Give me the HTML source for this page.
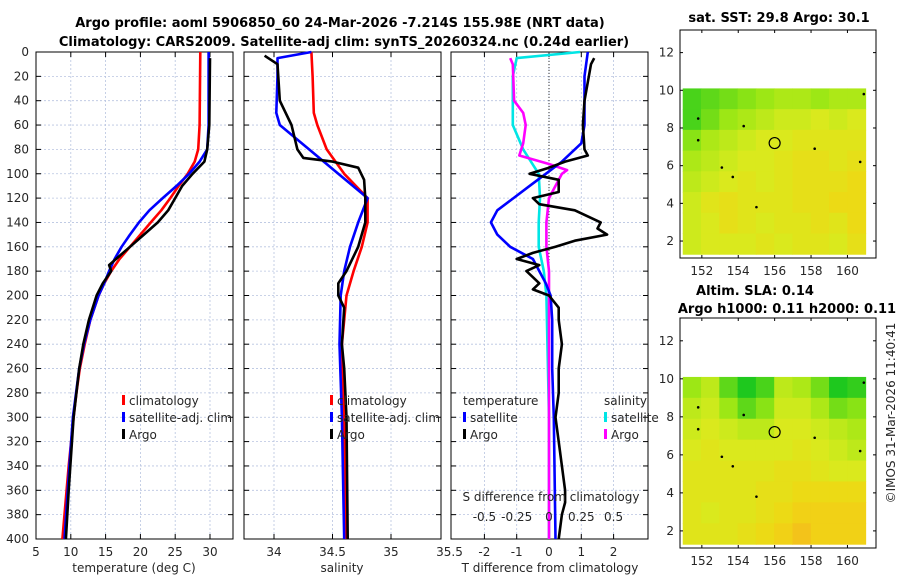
<!DOCTYPE html>
<html><head><meta charset="utf-8">
<style>
body{margin:0;background:#fff;}
svg{display:block;font-family:"DejaVu Sans","Liberation Sans",sans-serif;}
.t{font-size:12px;fill:#262626;}
.b{font-size:13px;font-weight:bold;fill:#000;}
</style></head>
<body>
<svg id="c" width="900" height="580" viewBox="0 0 900 580" xmlns="http://www.w3.org/2000/svg">
<text class="b" x="340" y="27" text-anchor="middle">Argo profile: aoml 5906850_60 24-Mar-2026 -7.214S 155.98E (NRT data)</text>
<text class="b" x="344" y="46" text-anchor="middle">Climatology: CARS2009. Satellite-adj clim: synTS_20260324.nc (0.24d earlier)</text>
<g id="g"></g>
</svg>
<script>
// ---- data ----
const tClimD=[0,60,80,90,100,110,120,130,140,150,160,170,180,190,200,220,240,260,280,300,340,380,400];
const tClimV=[28.6,28.5,28.3,27.8,26.8,25.5,24.3,23,21.5,20,18.5,17,15.8,14.8,14,12.8,12,11.3,10.8,10.4,9.7,9.1,8.8];
const tSatD=[0,60,80,90,100,110,120,130,140,150,160,170,180,190,200,220,240,260,300,340,400];
const tSatV=[29.8,29.8,29.6,28.5,27,25.2,23.2,21.3,19.8,18.5,17.3,16.3,15.5,14.8,14,12.8,11.9,11.2,10.3,9.8,9.1];
const tArgoD=[5,60,80,90,100,110,120,130,140,150,160,170,175,180,190,200,220,240,260,300,360,400];
const tArgoV=[30,29.9,29.6,29.2,27.5,26,25,24,22.5,20.5,18.5,16.5,15.5,15.8,14.6,13.7,12.6,11.8,11.2,10.4,9.7,9.3];
const sClimD=[0,20,50,60,80,100,120,140,160,180,200,240,300,400];
const sClimV=[34.32,34.33,34.34,34.37,34.45,34.6,34.8,34.8,34.75,34.68,34.62,34.58,34.6,34.61];
const sSatD=[0,5,20,50,60,80,100,120,140,160,180,200,240,300,400];
const sSatV=[34.32,34.03,34.03,34.02,34.05,34.3,34.55,34.8,34.72,34.65,34.6,34.57,34.56,34.58,34.6];
const sArgoD=[3,10,40,60,80,87,90,95,105,120,140,160,180,190,200,210,240,260,300,400];
const sArgoV=[33.92,34.03,34.05,34.15,34.2,34.25,34.5,34.72,34.77,34.78,34.78,34.72,34.62,34.55,34.55,34.6,34.58,34.6,34.62,34.63];
const dtSatD=[0,20,60,75,90,100,110,120,130,140,150,160,170,180,190,200,220,260,300,400];
const dtSatV=[1.2,1.1,1.1,1.0,0.4,-0.1,-0.6,-1.1,-1.6,-1.8,-1.6,-1.2,-0.5,-0.3,-0.1,0.05,0.1,0.1,0.15,0.2];
const dtArgoD=[5,10,40,60,80,85,90,95,100,105,115,120,125,130,140,145,150,155,160,165,170,175,180,185,190,195,200,210,220,240,260,280,300,320,340,360,370,380,400];
const dtArgoV=[1.4,1.3,1.1,1.05,1.1,1.2,0.5,0,-0.6,0.3,0.3,-0.5,-0.3,0.8,1.6,1.5,1.8,0.8,0.2,-0.5,-1.0,-0.3,-0.7,-0.5,-0.3,-0.5,0,0.3,0.3,0.4,0.3,0.3,0.2,0.3,0.4,0.5,0.5,0.4,0.3];
const dsSatD=[0,5,20,60,80,100,120,140,160,180,200,300,400];
const dsSatV=[0.24,-0.25,-0.28,-0.28,-0.2,-0.08,-0.07,-0.08,-0.08,-0.04,-0.02,0,0];
const dsArgoD=[5,10,40,50,60,75,85,92,97,100,110,120,140,160,180,200,300,400];
const dsArgoV=[-0.3,-0.28,-0.27,-0.2,-0.18,-0.2,-0.23,0.0,0.14,0.1,0.05,0.0,-0.02,-0.02,0.0,0.0,0.0,0.0];
const depthTicks=[0,20,40,60,80,100,120,140,160,180,200,220,240,260,280,300,320,340,360,380,400];
const tTicks=[5,10,15,20,25,30];
const sTicks=[34,34.5,35,35.5];
const dtTicks=[-2,-1,0,1,2];
const dsTicks=[-0.5,-0.25,0,0.25,0.5];
const dsTickLabels=["-0.5","-0.25","0","0.25","0.5"];
const latTicks=[2,4,6,8,10,12];
const lonTicks=[152,154,156,158,160];
const sstGrid=[
[29.2,29.3,29.4,29.5,29.6,29.7,29.7,29.6,29.7,29.7],
[29.2,29.4,29.6,29.7,29.8,29.9,29.9,30.0,29.9,30.0],
[29.5,29.7,29.8,29.9,30.0,30.0,30.1,30.1,30.1,30.1],
[29.7,29.8,29.9,30.0,30.0,30.1,30.2,30.2,30.1,30.2],
[29.8,29.9,30.0,30.1,30.0,30.1,30.2,30.2,30.2,30.3],
[29.9,30.1,30.2,30.1,30.1,30.1,30.2,30.2,30.3,30.3],
[29.9,30.0,30.2,30.1,30.0,30.1,30.1,30.2,30.1,30.3],
[29.9,30.0,30.0,30.0,30.1,30.0,30.1,30.1,30.0,30.2]];
const slaGrid=[
[29.6,29.8,29.3,29.0,29.2,29.8,29.7,29.4,29.0,29.1],
[29.8,29.9,29.6,29.3,29.5,29.9,29.9,29.7,29.4,29.5],
[29.9,30.0,29.9,29.8,29.8,30.0,30.0,29.9,29.8,29.7],
[30.0,30.1,30.0,30.0,30.0,30.0,30.1,30.0,29.9,29.8],
[30.1,30.1,30.1,30.1,30.1,30.2,30.2,30.1,30.0,30.0],
[30.1,30.1,30.1,30.1,30.2,30.2,30.3,30.3,30.3,30.3],
[30.1,30.0,30.1,30.1,30.2,30.3,30.4,30.4,30.4,30.4],
[30.1,30.1,30.1,30.2,30.3,30.4,30.5,30.4,30.4,30.4]];

const NS='http://www.w3.org/2000/svg';
const G=document.getElementById('g');
function mk(tag,at,parent){const e=document.createElementNS(NS,tag);for(const k in at)e.setAttribute(k,at[k]);(parent||G).appendChild(e);return e;}
function txt(x,y,s,cls,anchor){const e=mk('text',{x:x,y:y,class:cls||'t','text-anchor':anchor||'middle'});e.textContent=s;return e;}

const Y0=52,Y1=539;
const yD=d=>Y0+(d/400)*(Y1-Y0);
const xT=v=>36+(v-5)*6.96;
const xS=v=>274+(v-34)*117;
const xDT=v=>549+v*32.3;
const xDS=v=>549+v*129.2;

function panel(x0,x1,name,ticks,xf,labels){
  const p=mk('g',{});
  
  
  for(const d of depthTicks){if(d===0||d===400)continue;
    const l=mk('line',{x1:x0,x2:x1,y1:yD(d),y2:yD(d),stroke:'#b8c4e0','stroke-width':0.8,'stroke-dasharray':'2,2'},p);
    
    mk('line',{x1:x0,x2:x0+5,y1:yD(d),y2:yD(d),stroke:'#000'},p);mk('line',{x1:x1-5,x2:x1,y1:yD(d),y2:yD(d),stroke:'#000'},p);}
  ticks.forEach((t,i)=>{const X=xf(t);
    if(X>x0+1&&X<x1-1){const l=mk('line',{x1:X,x2:X,y1:Y0,y2:Y1,stroke:'#b8c4e0','stroke-width':0.8,'stroke-dasharray':'2,2'},p);
      
      mk('line',{x1:X,x2:X,y1:Y1,y2:Y1-5,stroke:'#000'},p);mk('line',{x1:X,x2:X,y1:Y0,y2:Y0+5,stroke:'#000'},p);}
    const tl=txt(X,556,labels?labels[i]:String(t),'t');
    });
  const r=mk('rect',{x:x0,y:Y0,width:x1-x0,height:Y1-Y0,fill:'none',stroke:'#000','stroke-width':1},p);
  
  return p;
}
function line(D,V,xf,col,name,w){
  const pts=D.map((d,i)=>xf(V[i]).toFixed(1)+','+yD(d).toFixed(1)).join(' ');
  const e=mk('polyline',{points:pts,fill:'none',stroke:col,'stroke-width':w||2.6,'stroke-linejoin':'round'});
  
  
}
panel(36,233,'temperature-panel',tTicks,xT);
panel(244,441,'salinity-panel',sTicks,xS,["34","34.5","35","35.5"]);
panel(451,648,'difference-panel',dtTicks,xDT);
for(const d of depthTicks){const e=txt(29,yD(d)+4,String(d),'t','end');
  
  }
let e;
e=txt(134,572,'temperature (deg C)');
e=txt(342,572,'salinity');
e=txt(550,572,'T difference from climatology');

line(tClimD,tClimV,xT,'#ff0000','temp-climatology-line');
line(tSatD,tSatV,xT,'#0000ff','temp-satellite-line');
line(tArgoD,tArgoV,xT,'#000000','temp-argo-line');
line(sClimD,sClimV,xS,'#ff0000','sal-climatology-line');
line(sSatD,sSatV,xS,'#0000ff','sal-satellite-line');
line(sArgoD,sArgoV,xS,'#000000','sal-argo-line');
e=mk('line',{x1:549,x2:549,y1:Y0,y2:Y1,stroke:'#333','stroke-width':1,'stroke-dasharray':'1,2'});

line(dsSatD,dsSatV,xDS,'#00e5e5','sal-diff-satellite-line');
line(dsArgoD,dsArgoV,xDS,'#ff00ff','sal-diff-argo-line');
line(dtSatD,dtSatV,xDT,'#0000ff','temp-diff-satellite-line');
line(dtArgoD,dtArgoV,xDT,'#000000','temp-diff-argo-line');

// S diff labels
e=txt(551,501,'S difference from climatology');
dsTicks.forEach((t,i)=>{const l=txt(xDS(t),521,dsTickLabels[i]);
  });

function legend(x,y,items,name){
  const g=mk('g',{});
  
  items.forEach((it,i)=>{const yy=y+i*17;
    if(it[1])mk('rect',{x:x,y:yy-9,width:3,height:10,fill:it[1]},g);
    const t=mk('text',{x:x+(it[1]?7:0),y:yy+1,class:'t'},g);t.textContent=it[0];});
}
legend(122,404,[['climatology','#ff0000'],['satellite-adj. clim','#0000ff'],['Argo','#000']],'temperature-legend');
legend(330,404,[['climatology','#ff0000'],['satellite-adj. clim','#0000ff'],['Argo','#000']],'salinity-legend');
legend(463,404,[['temperature',null]],'diff-legend-temp-header');
legend(463,421,[['satellite','#0000ff'],['Argo','#000']],'diff-legend-temperature');
legend(604,404,[['salinity',null]],'diff-legend-sal-header');
legend(604,421,[['satellite','#00e5e5'],['Argo','#ff00ff']],'diff-legend-salinity');

// maps
function col(v){const f=Math.max(0,Math.min(1,(v-29)/1.6));
  const stops=[[0.0,[30,200,30]],[0.35,[150,230,20]],[0.6,[215,235,30]],[0.85,[240,215,20]],[1,[245,180,30]]];
  for(let i=1;i<stops.length;i++){if(f<=stops[i][0]){const a=stops[i-1],b=stops[i],u=(f-a[0])/(b[0]-a[0]);
    return 'rgb('+a[1].map((c,k)=>Math.round(c+(b[1][k]-c)*u)).join(',')+')';}}return 'rgb(245,180,30)';}
function map(top,bot,grid,name,title){
  const x0=680,x1=876;
  const lonX=v=>x0+(v-150.8)*18.2;
  const latY=v=>bot-(v-1.1)*(bot-top)/(13.2-1.1);
  const g=mk('g',{});
  
  const rows=grid.length,cols=grid[0].length;
  const yTop=latY(10.1),yBot=latY(1.3),xa=lonX(150.95),xb=lonX(161.0);
  grid.forEach((row,r)=>row.forEach((v,c)=>{
    const cell=mk('rect',{x:xa+c*(xb-xa)/cols,y:yTop+r*(yBot-yTop)/rows,width:(xb-xa)/cols+0.5,height:(yBot-yTop)/rows+0.5,fill:col(v)},g);
    }));
  const ring=mk('circle',{cx:lonX(156),cy:latY(7.2),r:5.5,fill:'none',stroke:'#000','stroke-width':1.2},g);
  
  [[158.2,6.9],[151.8,7.35],[153.7,5.4],[154.3,8.1],[151.8,8.5],[155,3.8],[153.1,5.9],[160.7,6.2],[160.9,9.8]].forEach(p=>mk('circle',{cx:lonX(p[0]),cy:latY(p[1]),r:1.3,fill:'#000'},g));
  const fr=mk('rect',{x:x0,y:top,width:x1-x0,height:bot-top,fill:'none',stroke:'#000'},g);
  
  latTicks.forEach(t=>{const Y=latY(t);mk('line',{x1:x0,x2:x0+3,y1:Y,y2:Y,stroke:'#000'},g);mk('line',{x1:x1-3,x2:x1,y1:Y,y2:Y,stroke:'#000'},g);
    const l=txt(x0-6,Y+4,String(t),'t','end');});
  lonTicks.forEach(t=>{const X=lonX(t);mk('line',{x1:X,x2:X,y1:bot,y2:bot-3,stroke:'#000'},g);mk('line',{x1:X,x2:X,y1:top,y2:top+3,stroke:'#000'},g);
    const l=txt(X,bot+17,String(t));});
}
map(30,258,sstGrid,'sst-map');
map(318,548,slaGrid,'sla-map');
e=txt(779,22,'sat. SST: 29.8 Argo: 30.1','b');
e=txt(755,295,'Altim. SLA: 0.14','b');
e=txt(787,313,'Argo h1000: 0.11 h2000: 0.11','b');
e=mk('text',{x:0,y:0,class:'t','text-anchor':'middle',transform:'translate(895,413) rotate(-90)'});
e.textContent='©IMOS 31-Mar-2026 11:40:41';


</script>
</body></html>
